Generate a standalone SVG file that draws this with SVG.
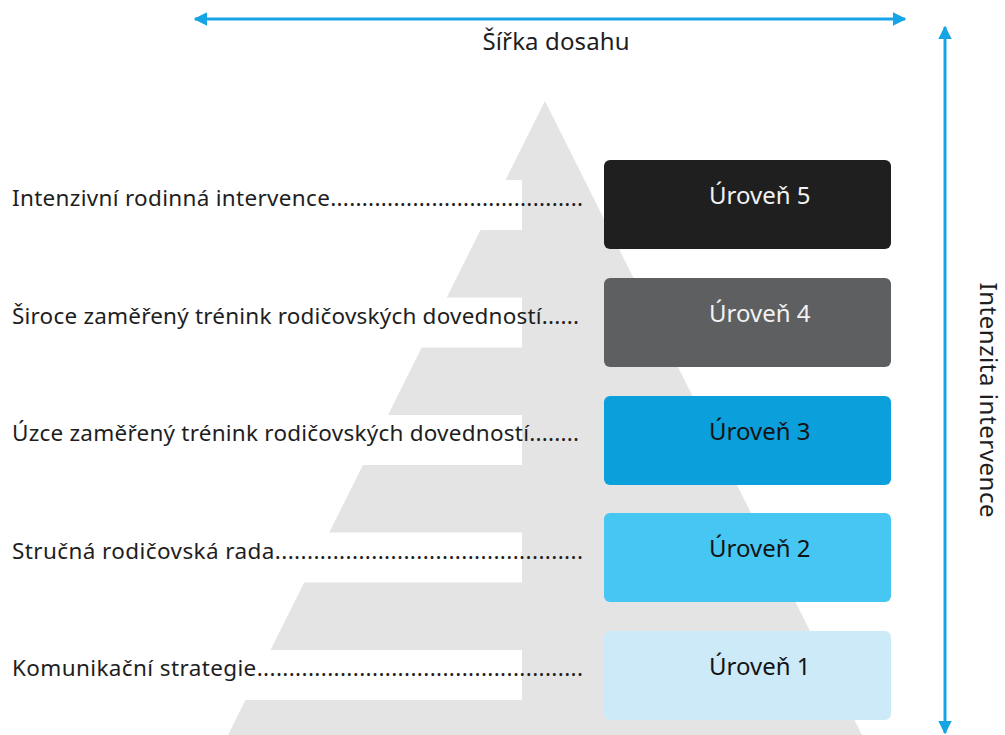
<svg xmlns="http://www.w3.org/2000/svg" width="1005" height="735" viewBox="0 0 1005 735">
  <style>
    .lbl { font-family: "Noto Sans", "Open Sans", sans-serif; font-size: 22.5px; fill: #1e1e1e; }
    .lvl { font-family: "Noto Sans", "Open Sans", sans-serif; font-size: 24px; }
    .axis { font-family: "Noto Sans", "Open Sans", sans-serif; font-size: 24px; fill: #1e1e1e; }
    .arrow { stroke: #16a4e6; stroke-width: 3; fill: none; }
    .band { fill: #ffffff; }
  </style>
  <defs>
    <marker id="ah" viewBox="0 0 10 10" refX="9" refY="5" markerWidth="4.5" markerHeight="5" markerUnits="strokeWidth" orient="auto-start-reverse">
      <path d="M0,0 L10,5 L0,10 Z" fill="#16a4e6"/>
    </marker>
  </defs>
  <rect width="1005" height="735" fill="#ffffff"/>

  <!-- pyramid background -->
  <g id="pyramid">
    <polygon points="545,101 228,735 862,735" fill="#e4e4e5"/>
    <rect class="band" x="0" y="180" width="522" height="50"/>
    <rect class="band" x="0" y="297.5" width="522" height="50"/>
    <rect class="band" x="0" y="415" width="522" height="50"/>
    <rect class="band" x="0" y="532.5" width="522" height="50"/>
    <rect class="band" x="0" y="650" width="522" height="50"/>
  </g>

  <!-- connectors / axes -->
  <g id="connectors">
    <line class="arrow" x1="195" y1="19" x2="905" y2="19" marker-start="url(#ah)" marker-end="url(#ah)"/>
    <line class="arrow" x1="945" y1="27" x2="945" y2="733" marker-start="url(#ah)" marker-end="url(#ah)"/>
  </g>

  <g id="axis-width">
    <text class="axis" x="556" y="50" text-anchor="middle" textLength="147">Šířka dosahu</text>
  </g>
  <g id="axis-intensity">
    <text class="axis" transform="translate(980,400) rotate(90)" x="0" y="0" text-anchor="middle" font-size="25" textLength="235">Intenzita intervence</text>
  </g>

  <!-- labels -->
  <g id="label5"><text class="lbl" x="12" y="206" textLength="571">Intenzivní rodinná intervence........................................</text></g>
  <g id="label4"><text class="lbl" x="12" y="323.5" textLength="567">Široce zaměřený trénink rodičovských dovedností......</text></g>
  <g id="label3"><text class="lbl" x="12" y="441" textLength="567">Úzce zaměřený trénink rodičovských dovedností........</text></g>
  <g id="label2"><text class="lbl" x="12" y="558.5" textLength="571">Stručná rodičovská rada................................................</text></g>
  <g id="label1"><text class="lbl" x="12" y="676" textLength="571">Komunikační strategie...................................................</text></g>

  <!-- level boxes -->
  <g id="level5">
    <rect x="604" y="160" width="287" height="89" rx="6" fill="#1f1f20"/>
    <text class="lvl" x="709" y="204" fill="#f2f2f2">Úroveň 5</text>
  </g>
  <g id="level4">
    <rect x="604" y="278" width="287" height="89" rx="6" fill="#5e5f61"/>
    <text class="lvl" x="709" y="322" fill="#f2f2f2">Úroveň 4</text>
  </g>
  <g id="level3">
    <rect x="604" y="396" width="287" height="89" rx="6" fill="#0b9fdc"/>
    <text class="lvl" x="709" y="440" fill="#141414">Úroveň 3</text>
  </g>
  <g id="level2">
    <rect x="604" y="513" width="287" height="89" rx="6" fill="#45c6f3"/>
    <text class="lvl" x="709" y="557" fill="#141414">Úroveň 2</text>
  </g>
  <g id="level1">
    <rect x="604" y="631" width="287" height="89" rx="6" fill="#cdeaf8"/>
    <text class="lvl" x="709" y="675" fill="#141414">Úroveň 1</text>
  </g>
</svg>
